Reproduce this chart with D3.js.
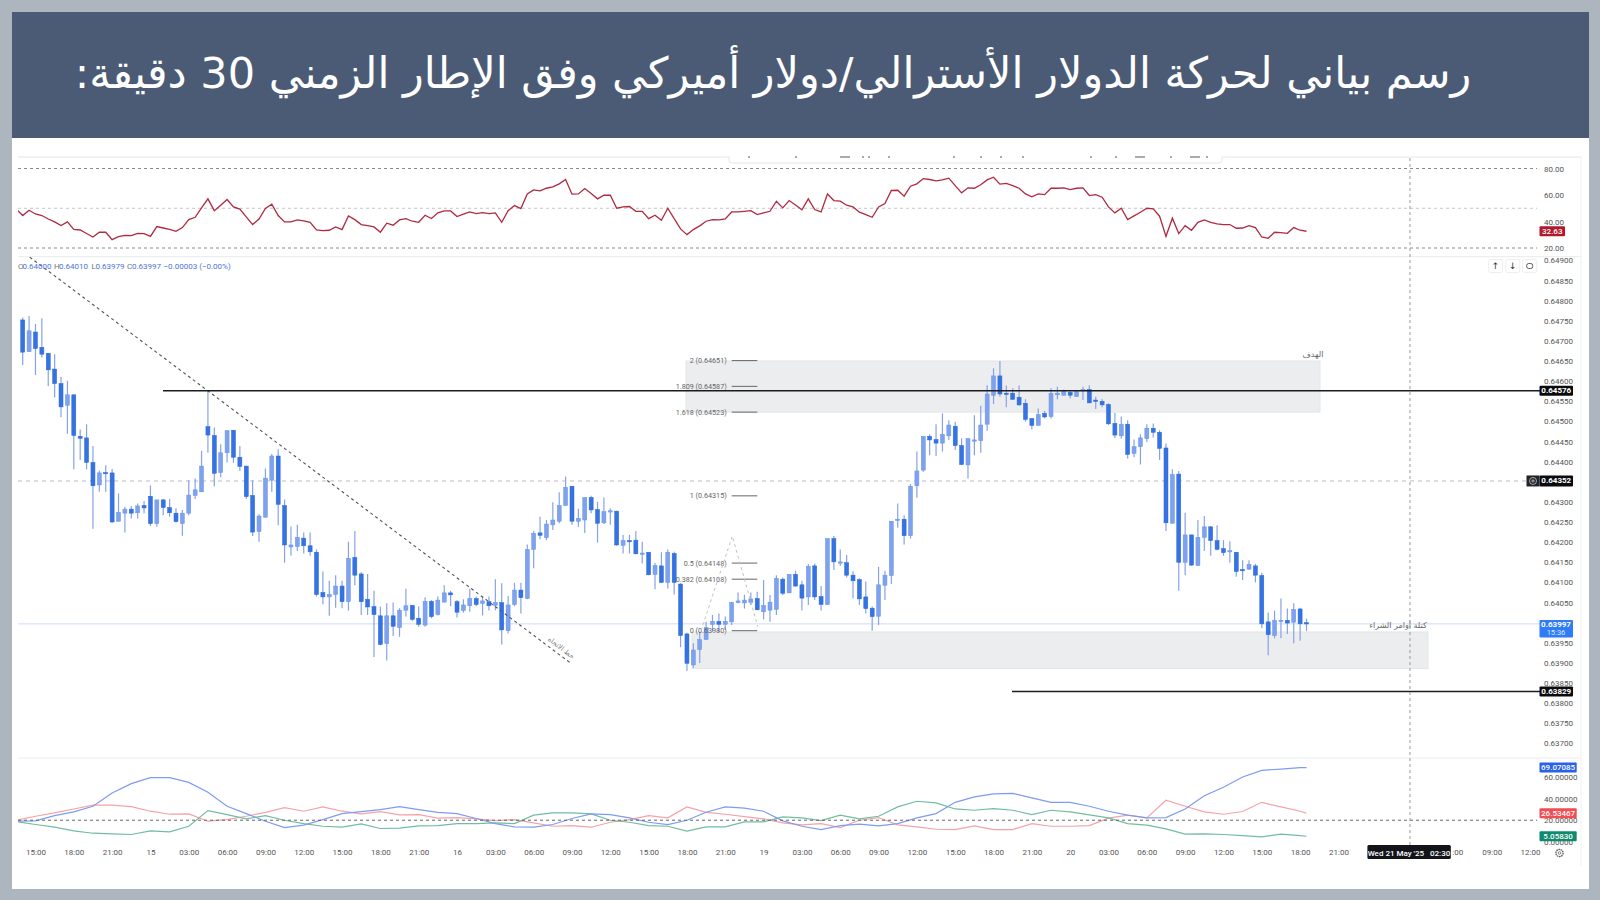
<!DOCTYPE html>
<html>
<head>
<meta charset="utf-8">
<script src="https://cdn.jsdelivr.net/npm/d3@7"></script>
<style>
  html, body { margin: 0; padding: 0; background: #adb6bf; }
  svg { display: block; }
  text { font-family: Roboto, "DejaVu Sans", sans-serif; }
  .ar { font-family: "DejaVu Sans", sans-serif; }
</style>
</head>
<body>
<div id="chart"></div>
<script>
const titleText = "رسم بياني لحركة الدولار الأسترالي/دولار أميركي وفق الإطار الزمني 30 دقيقة:";

// 30 minute candles, prices x 100000
const opens = [
  64752,64673,64722,64684,64669,64630,64594,64540,64566,64463,
  64459,64398,64342,64373,64372,64252,64272,64282,64273,64291,
  64314,64246,64305,64286,64272,64246,64272,64316,64325,64487,
  64465,64373,64422,64478,64411,64389,64316,64226,64262,64354,
  64414,64291,64188,64189,64210,64191,64175,64075,64064,64070,
  64091,64052,64162,64121,64058,64040,64017,63948,64017,63988,
  64031,64043,64011,63994,64053,64020,64051,64074,64052,64030,
  64042,64060,64048,64052,64043,64050,63980,64045,64081,64060,
  64182,64223,64211,64243,64252,64291,64339,64252,64255,64311,
  64281,64248,64276,64277,64192,64204,64205,64171,64175,64120,
  64141,64100,64172,64096,63972,63895,63933,63958,63996,64003,
  63996,64002,64050,64049,64050,64060,64027,64031,64033,64108,
  64074,64120,64094,64064,64141,64065,64045,64209,64150,64149,
  64118,64107,64064,64036,64016,64093,64117,64255,64257,64216,
  64340,64379,64463,64455,64446,64464,64488,64440,64392,64452,
  64452,64493,64565,64613,64570,64570,64560,64545,64507,64490,
  64520,64512,64566,64565,64572,64562,64576,64579,64553,64550,
  64542,64495,64464,64493,64420,64437,64457,64483,64473,64434,
  64247,64369,64150,64218,64142,64212,64238,64204,64184,64176,
  64175,64132,64133,64141,64117,64002,63968,64004,64006,64001,
  64034,64000];
const closes = [
  64672,64725,64681,64667,64628,64594,64536,64566,64465,64458,
  64398,64340,64372,64370,64250,64274,64282,64272,64290,64285,
  64246,64305,64286,64273,64251,64272,64317,64330,64389,64466,
  64371,64422,64477,64411,64388,64313,64225,64265,64359,64414,
  64294,64193,64193,64212,64191,64176,64070,64064,64070,64091,
  64052,64160,64118,64052,64039,64020,63946,64017,63991,64031,
  64042,64008,63996,64053,64015,64056,64074,64069,64026,64044,
  64060,64045,64054,64042,64050,63982,64044,64081,64062,64182,
  64222,64217,64245,64255,64291,64336,64252,64259,64311,64280,
  64247,64276,64278,64193,64204,64203,64171,64173,64119,64142,
  64100,64175,64100,63968,63899,63932,63958,63988,64003,63996,
  64003,64050,64054,64056,64059,64032,64043,64051,64110,64073,
  64120,64091,64061,64140,64064,64045,64209,64151,64151,64118,
  64104,64059,64035,64015,64094,64118,64252,64257,64216,64339,
  64377,64463,64454,64446,64468,64491,64440,64393,64457,64454,
  64491,64568,64613,64568,64568,64555,64541,64505,64490,64517,
  64511,64569,64570,64576,64565,64574,64579,64546,64550,64541,
  64494,64466,64493,64418,64437,64459,64483,64473,64433,64248,
  64368,64150,64218,64143,64212,64238,64204,64182,64174,64179,
  64127,64130,64145,64118,63997,63970,64006,64006,63999,64033,
  63997,63997];
const highs = [
  64758,64762,64742,64756,64669,64667,64611,64601,64566,64480,
  64493,64439,64378,64391,64382,64321,64288,64290,64296,64302,
  64341,64305,64307,64307,64284,64280,64354,64358,64427,64578,
  64485,64443,64477,64478,64439,64389,64354,64269,64383,64419,
  64431,64306,64239,64243,64224,64224,64182,64127,64104,64118,
  64104,64201,64228,64125,64121,64079,64040,64048,64050,64036,
  64084,64044,64041,64063,64056,64065,64093,64079,64056,64058,
  64084,64065,64065,64065,64108,64098,64066,64099,64099,64194,
  64228,64263,64255,64299,64324,64363,64339,64283,64311,64315,
  64300,64311,64284,64278,64218,64218,64228,64201,64175,64149,
  64175,64182,64176,64098,63975,63949,63977,64002,64019,64023,
  64015,64052,64075,64069,64075,64077,64106,64069,64118,64112,
  64120,64129,64104,64146,64147,64091,64209,64215,64182,64168,
  64128,64110,64102,64040,64139,64129,64252,64296,64267,64344,
  64425,64464,64468,64493,64520,64503,64499,64458,64458,64515,
  64539,64590,64632,64650,64589,64582,64589,64555,64507,64532,
  64526,64582,64586,64579,64578,64576,64586,64590,64561,64555,
  64545,64521,64512,64503,64455,64468,64493,64495,64478,64445,
  64381,64377,64273,64218,64255,64265,64240,64242,64205,64202,
  64175,64155,64155,64146,64124,64025,64030,64060,64035,64048,
  64037,64010];
const lows = [
  64640,64673,64615,64659,64588,64560,64510,64469,64381,64404,
  64381,64233,64325,64325,64248,64251,64224,64259,64259,64272,
  64240,64238,64267,64263,64249,64216,64267,64307,64325,64422,
  64338,64361,64398,64397,64377,64307,64215,64201,64261,64325,
  64242,64149,64166,64178,64172,64166,64065,64046,64017,64037,
  64036,64030,64093,64019,64019,63915,63944,63906,63967,63965,
  64015,64005,63990,63990,64011,64018,64051,64041,64013,64025,
  64027,64041,64018,64030,64031,63946,63973,64041,64023,64058,
  64135,64207,64205,64230,64247,64291,64243,64238,64223,64272,
  64199,64245,64243,64191,64172,64172,64170,64147,64118,64083,
  64099,64085,64070,63939,63880,63888,63900,63958,63977,63977,
  63982,63994,64048,64035,64044,64031,64008,64002,64019,64069,
  64073,64089,64030,64044,64056,64030,64044,64131,64141,64112,
  64060,64044,64023,63980,63994,64056,64096,64236,64194,64209,
  64310,64375,64416,64414,64425,64454,64429,64391,64358,64416,
  64422,64477,64543,64561,64535,64553,64538,64499,64480,64489,
  64507,64507,64555,64565,64557,64561,64553,64545,64531,64535,
  64491,64459,64457,64408,64411,64393,64449,64460,64404,64228,
  64247,64079,64118,64141,64141,64178,64166,64180,64166,64149,
  64114,64106,64131,64100,63987,63919,63961,63961,63972,63949,
  63955,63979];

// RSI, one value per bar, first value belongs to the bar before the first candle
const rsiValues = [49.3,
  44.5,48.5,45.7,44.5,41.9,39.7,36.9,39.7,34.1,33.6,
  30.9,28.3,31.9,31.9,26.3,28.6,29.6,29.3,31.1,30.9,
  28.8,36.2,35.1,34.1,32.6,35.4,41.4,43.2,50.3,57.1,
  48.2,52.3,56.6,51.0,49.3,43.5,37.7,41.9,49.8,53.0,
  44.5,39.7,39.7,41.2,40.4,39.4,33.6,33.1,33.4,35.9,
  33.9,44.2,41.4,37.7,36.9,35.9,31.9,38.7,37.2,41.2,
  42.2,40.2,39.4,44.7,42.2,46.5,48.0,48.0,43.7,45.5,
  47.2,46.0,46.7,46.0,46.5,39.4,48.2,52.0,49.8,60.8,
  63.9,63.1,65.1,66.1,68.4,71.7,60.6,60.8,64.9,61.1,
  57.1,59.8,59.8,50.0,51.0,51.3,47.7,47.7,42.2,44.7,
  40.9,50.0,42.2,34.4,30.1,33.9,36.7,40.2,41.4,41.2,
  41.9,47.2,47.2,47.7,48.2,45.2,46.5,47.7,55.3,50.3,
  55.8,52.5,48.8,57.1,49.0,47.2,60.8,55.8,55.3,52.3,
  51.0,47.0,45.2,43.2,51.0,53.5,63.4,63.6,59.1,66.6,
  68.4,72.4,71.7,70.7,71.4,72.7,67.1,61.6,65.4,65.1,
  67.7,71.4,73.4,68.2,68.7,67.1,65.1,60.8,58.6,60.8,
  60.3,65.1,65.1,65.4,64.1,65.1,65.4,59.6,60.3,58.3,
  51.0,46.5,50.0,41.4,44.2,47.0,50.0,49.5,44.0,28.8,
  42.5,30.9,36.9,33.4,39.4,41.2,39.4,38.2,37.7,37.7,
  34.9,35.1,36.9,35.4,28.3,27.3,31.9,31.6,31.1,35.4,
  33.4,32.63];

// DMI pane, read every third bar
const dmiBars = d3.range(-1, 201, 3).concat([201]);
const adxValues = [
  19.1,19.4,24.3,27.8,33.0,45.4,54.1,59.7,59.7,55.3,46.0,33.0,26.2,
  19.1,13.2,15.4,20.6,26.2,28.1,29.9,32.7,29.9,27.4,26.2,21.6,16.9,
  13.8,13.5,16.0,21.6,25.9,25.3,22.2,18.1,16.0,20.0,27.4,32.4,31.2,
  28.4,19.4,14.4,11.3,15.0,16.3,14.7,16.9,22.2,26.2,36.7,41.7,44.5,
  45.1,40.8,36.7,36.7,33.0,28.4,24.7,22.2,22.5,30.5,42.9,50.7,60.3,66.5,67.7,69.0,69.07];
const plusDi = [
  20.0,23.7,26.8,30.5,34.0,34.0,32.7,28.4,25.6,25.9,19.1,20.6,23.7,
  27.4,31.8,28.4,32.4,28.4,25.9,28.1,25.0,25.3,21.9,22.5,21.2,19.7,
  20.6,17.5,14.4,15.0,13.5,18.1,20.6,24.3,22.2,32.4,27.4,25.6,23.4,
  21.2,17.5,15.7,16.9,13.2,20.0,22.5,15.7,13.8,11.6,11.3,14.7,11.3,
  11.3,16.9,14.4,14.4,15.0,21.9,24.7,22.2,38.6,33.0,27.8,25.6,28.1,36.7,32.4,28.4,26.53];
const minusDi = [
  18.8,16.0,13.5,10.1,7.9,7.3,6.7,10.1,9.2,14.4,29.0,25.3,21.2,
  24.3,20.0,16.9,14.4,13.5,16.6,12.3,12.6,14.7,15.0,16.9,16.9,17.5,
  16.9,24.7,26.8,26.8,25.9,20.0,18.1,15.0,14.4,9.8,13.8,13.8,18.5,
  18.5,23.1,22.2,19.7,24.7,21.2,23.7,32.4,37.7,36.1,30.5,29.3,30.9,
  29.3,25.3,29.3,27.8,25.0,22.2,16.9,15.4,11.9,7.0,7.3,6.7,5.7,4.5,7.0,5.7,5.058];

const priceTicks = d3.range(64900, 63699, -50);
const rsiTicks = [80, 60, 40, 20];
const dmiTicks = [60, 40, 20, 0];
const rsiGuides = [80, 50, 20];

// labels behind the crosshair tooltip stay empty, 06:00 only shows its tail there
const timeLabels = ["15:00","18:00","21:00","15","03:00","06:00","09:00","12:00","15:00","18:00","21:00",
  "16","03:00","06:00","09:00","12:00","15:00","18:00","21:00",
  "19","03:00","06:00","09:00","12:00","15:00","18:00","21:00",
  "20","03:00","06:00","09:00","12:00","15:00","18:00","21:00",
  "","",":00","09:00","12:00"];

const fibLevels = [2, 1.809, 1.618, 1, 0.5, 0.382, 0];
const fibPrices = [64651, 64587, 64523, 64315, 64148, 64108, 63980];

const svg = d3.select("#chart").append("svg").attr("width", 1600).attr("height", 900);

// page frame
svg.append("rect").attr("width", 1600).attr("height", 900).attr("fill", "#adb6bf");
svg.append("rect").attr("x", 12).attr("y", 12).attr("width", 1577).attr("height", 877).attr("fill", "#ffffff");
svg.append("rect").attr("x", 12).attr("y", 12).attr("width", 1577).attr("height", 126).attr("fill", "#4b5b75");
svg.append("text").attr("class", "ar")
  .attr("x", 773).attr("y", 73)
  .attr("text-anchor", "middle").attr("dominant-baseline", "central")
  .attr("direction", "rtl")
  .attr("font-size", 43).attr("fill", "#ffffff")
  .text(titleText);

// scales, bar index to x and price to y for the panes
const x = d3.scaleLinear().domain([0, 201]).range([22.7, 1306.5]);
const y = d3.scaleLinear().domain([64650, 63750]).range([361, 723.3]);
const yRsi = d3.scaleLinear().domain([80, 20]).range([168.5, 248]);
const yDmi = d3.scaleLinear().domain([60, 0]).range([777.3, 841.7]);

svg.append("clipPath").attr("id", "plot").append("rect")
  .attr("x", 18).attr("y", 157).attr("width", 1522).attr("height", 690);

// pane borders
[157, 256.7, 758].forEach(v => {
  svg.append("line").attr("x1", 18).attr("x2", 1581).attr("y1", v).attr("y2", v)
    .attr("stroke", "#eceef0").attr("stroke-width", 1.2);
});
svg.append("line").attr("x1", 1581).attr("x2", 1581).attr("y1", 157).attr("y2", 866)
  .attr("stroke", "#f0f1f3");

// toolbar leftover at the top
svg.append("rect").attr("x", 729).attr("y", 150).attr("width", 493).attr("height", 13).attr("rx", 3)
  .attr("fill", "#ffffff").attr("stroke", "#e4e6e9");
svg.append("rect").attr("x", 720).attr("y", 138).attr("width", 510).attr("height", 18.5).attr("fill", "#ffffff");
svg.append("line").attr("x1", 18).attr("x2", 729).attr("y1", 157).attr("y2", 157).attr("stroke", "#eceef0").attr("stroke-width", 1.2);
svg.append("line").attr("x1", 1222).attr("x2", 1581).attr("y1", 157).attr("y2", 157).attr("stroke", "#eceef0").attr("stroke-width", 1.2);
[748, 795, 840, 846, 862, 868, 888, 953, 980, 1000, 1022, 1090, 1115, 1135, 1140, 1170, 1190, 1206].forEach(v => {
  svg.append("rect").attr("x", v).attr("y", 156).attr("width", v === 840 || v === 1135 || v === 1190 ? 10 : 2).attr("height", 2)
    .attr("fill", "#aaa");
});

// zones
svg.append("rect").attr("x", 686).attr("width", 1320 - 686)
  .attr("y", y(64650)).attr("height", y(64523) - y(64650))
  .attr("fill", "#ecedee").attr("stroke", "#e4e5e7");
svg.append("rect").attr("x", 692).attr("width", 1428 - 692)
  .attr("y", y(63977)).attr("height", y(63886) - y(63977))
  .attr("fill", "#ecedee").attr("stroke", "#e4e5e7");

// RSI pane
const rsiPane = svg.append("g").attr("clip-path", "url(#plot)");
rsiPane.selectAll("line").data(rsiGuides).join("line")
  .attr("x1", 18).attr("x2", 1537)
  .attr("y1", d => yRsi(d)).attr("y2", d => yRsi(d))
  .attr("stroke", d => d === 50 ? "#c4c4c4" : "#8a8a8a")
  .attr("stroke-dasharray", "3,3");
rsiPane.append("path")
  .attr("d", d3.line().x((d, i) => x(i - 1)).y(d => yRsi(d))(rsiValues))
  .attr("fill", "none").attr("stroke", "#b02a41").attr("stroke-width", 1.3);

// horizontal price lines behind the candles
const guides = svg.append("g");
guides.append("line").attr("x1", 18).attr("x2", 1526).attr("y1", y(64352)).attr("y2", y(64352))
  .attr("stroke", "#bdbdbd").attr("stroke-dasharray", "4,4");
guides.append("line").attr("x1", 18).attr("x2", 1540).attr("y1", y(63997)).attr("y2", y(63997))
  .attr("stroke", "#cfdcf8");

// candles
const bars = d3.range(opens.length);
const candles = svg.append("g");
candles.selectAll("line").data(bars).join("line")
  .attr("x1", d => x(d)).attr("x2", d => x(d))
  .attr("y1", d => y(highs[d])).attr("y2", d => y(lows[d]))
  .attr("stroke", "#86a2e6").attr("stroke-width", 1.2);
candles.selectAll("rect").data(bars).join("rect")
  .attr("x", d => x(d) - 2)
  .attr("width", 4)
  .attr("y", d => y(Math.max(opens[d], closes[d])))
  .attr("height", d => Math.max(1.3, Math.abs(y(opens[d]) - y(closes[d]))))
  .attr("fill", d => closes[d] < opens[d] ? "#3573e3" : "#7ea2ee")
  .attr("stroke", d => closes[d] < opens[d] ? "#2a66d6" : "#6a93e8")
  .attr("stroke-width", 0.5);

// fib drawing
const fib = svg.append("g");
fib.selectAll("line").data(fibPrices).join("line")
  .attr("x1", 731.7).attr("x2", 757.3)
  .attr("y1", d => y(d)).attr("y2", d => y(d))
  .attr("stroke", "#666").attr("stroke-width", 1);
fib.selectAll("text").data(fibPrices).join("text")
  .attr("x", 726.7).attr("y", d => y(d))
  .attr("text-anchor", "end").attr("dominant-baseline", "central")
  .attr("font-size", 7.2).attr("fill", "#666")
  .text((d, i) => fibLevels[i] + " (" + (d / 100000).toFixed(5) + ")");

// dashed zigzag of the fib points
const zigBars = [106.2, 111.1, 115.1];
const zigPrices = [63980, 64215, 63990];
svg.append("path")
  .attr("d", d3.line().x(d => x(d)).y((d, i) => y(zigPrices[i]))(zigBars))
  .attr("fill", "none").attr("stroke", "#c2c2c2").attr("stroke-dasharray", "3,3");

// trend line
const trendBars = [1.1, 86];
const trendPrices = [64908, 63897];
svg.append("path")
  .attr("d", d3.line().x(d => x(d)).y((d, i) => y(trendPrices[i]))(trendBars))
  .attr("fill", "none").attr("stroke", "#555").attr("stroke-dasharray", "3,3").attr("stroke-width", 1.1);
svg.append("text").attr("class", "ar")
  .attr("transform", "translate(561,648) rotate(38)")
  .attr("text-anchor", "middle").attr("dominant-baseline", "central")
  .attr("font-size", 7).attr("fill", "#777")
  .text("خط الاتجاه");

// solid levels
svg.append("line").attr("x1", 163).attr("x2", 1540).attr("y1", y(64576)).attr("y2", y(64576))
  .attr("stroke", "#1c1c1c").attr("stroke-width", 1.5);
svg.append("line").attr("x1", 1012).attr("x2", 1540).attr("y1", y(63829)).attr("y2", y(63829))
  .attr("stroke", "#1c1c1c").attr("stroke-width", 1.5);

// zone labels
svg.append("text").attr("class", "ar").attr("x", 1313).attr("y", 354)
  .attr("text-anchor", "middle").attr("dominant-baseline", "central")
  .attr("font-size", 8).attr("fill", "#666").text("الهدف");
svg.append("text").attr("class", "ar").attr("x", 1398).attr("y", 625)
  .attr("text-anchor", "middle").attr("dominant-baseline", "central")
  .attr("font-size", 8).attr("fill", "#666").text("كتلة أوامر الشراء");

// DMI pane
const dmiPane = svg.append("g").attr("clip-path", "url(#plot)");
[[plusDi, "#f4a3a8"], [minusDi, "#72bd9f"], [adxValues, "#7e9cf0"]].forEach(s => {
  dmiPane.append("path")
    .attr("d", d3.line().x((d, i) => x(dmiBars[i])).y(d => yDmi(d))(s[0]))
    .attr("fill", "none").attr("stroke", s[1]).attr("stroke-width", 1.2);
});
dmiPane.append("line").attr("x1", 18).attr("x2", 1537).attr("y1", yDmi(20)).attr("y2", yDmi(20))
  .attr("stroke", "#666").attr("stroke-dasharray", "3,3");

// crosshair
svg.append("line").attr("x1", x(217.2)).attr("x2", x(217.2)).attr("y1", 158).attr("y2", 845)
  .attr("stroke", "#999").attr("stroke-dasharray", "3,3");

// axes, right side
function styleAxis(g) {
  g.select(".domain").remove();
  g.selectAll("line").remove();
  g.selectAll("text").attr("fill", "#555").attr("font-size", 8).attr("font-family", "Roboto, sans-serif");
}
svg.append("g").attr("transform", "translate(1544,0)")
  .call(d3.axisRight(y).tickValues(priceTicks).tickFormat(d => (d / 100000).toFixed(5)).tickSize(0).tickPadding(0))
  .call(styleAxis);
svg.append("g").attr("transform", "translate(1544,0)")
  .call(d3.axisRight(yRsi).tickValues(rsiTicks).tickFormat(d3.format(".2f")).tickSize(0).tickPadding(0))
  .call(styleAxis);
svg.append("g").attr("transform", "translate(1544,0)")
  .call(d3.axisRight(yDmi).tickValues(dmiTicks).tickFormat(d3.format(".5f")).tickSize(0).tickPadding(0))
  .call(styleAxis);

// time axis, one label every six bars starting at 15:00
svg.append("g").attr("transform", "translate(0,849)")
  .call(d3.axisBottom(x).tickValues(timeLabels.map((d, i) => 2 + 6 * i))
    .tickFormat((d, i) => timeLabels[i]).tickSize(0).tickPadding(0))
  .call(styleAxis)
  .selectAll("text").filter(function() { return d3.select(this).text() === ":00"; }).attr("dx", 4);

// price tags
function tag(x0, x1, yc, h, fill, label, bold) {
  svg.append("rect").attr("x", x0).attr("y", yc - h / 2).attr("width", x1 - x0).attr("height", h)
    .attr("rx", 1).attr("fill", fill);
  svg.append("text").attr("x", (x0 + x1) / 2).attr("y", yc)
    .attr("text-anchor", "middle").attr("dominant-baseline", "central")
    .attr("font-size", 8).attr("font-weight", bold ? 700 : 500).attr("fill", "#fff").text(label);
}
tag(1539.5, 1565, yRsi(32.63), 10, "#b2182b", "32.63");
tag(1539.5, 1573, y(64576), 10, "#0b0b0f", "0.64576", true);
tag(1539.5, 1573, y(64352), 11, "#0b0b0f", "0.64352", true);
tag(1539.5, 1573, y(63829), 10, "#0b0b0f", "0.63829", true);
tag(1539.5, 1576.7, yDmi(69.07), 10, "#2962e8", "69.07085");
tag(1539.5, 1576.7, yDmi(26.53), 10, "#f04e54", "26.53467");
tag(1539.5, 1576.7, yDmi(5.058), 10, "#0f8a6e", "5.05830");

// current price tag has the countdown under it
svg.append("rect").attr("x", 1539.5).attr("y", 620).attr("width", 33.5).attr("height", 17.5).attr("rx", 1).attr("fill", "#2e7df6");
svg.append("text").attr("x", 1556).attr("y", 624.5).attr("text-anchor", "middle").attr("dominant-baseline", "central")
  .attr("font-size", 8).attr("font-weight", 700).attr("fill", "#fff").text("0.63997");
svg.append("text").attr("x", 1556).attr("y", 632.5).attr("text-anchor", "middle").attr("dominant-baseline", "central")
  .attr("font-size", 7.5).attr("fill", "#dfeaff").text("15:36");

// plus button beside the 0.64352 tag
svg.append("rect").attr("x", 1526.5).attr("y", y(64352) - 5.5).attr("width", 13).attr("height", 11).attr("fill", "#222428");
svg.append("circle").attr("cx", 1533).attr("cy", y(64352)).attr("r", 3.5).attr("fill", "none").attr("stroke", "#ddd").attr("stroke-width", 0.7);
svg.append("path").attr("d", `M1531.2 ${y(64352)}h3.6M1533 ${y(64352) - 1.8}v3.6`).attr("stroke", "#ddd").attr("stroke-width", 0.7);

// OHLC legend
const legendParts = [["O", 18, "#777"], ["0.64000", 22.5, "#4f74d8"], ["H", 54, "#777"], ["0.64010", 59, "#4f74d8"],
  ["L", 91.5, "#777"], ["0.63979", 95.5, "#4f74d8"], ["C", 127, "#777"], ["0.63997", 132, "#4f74d8"],
  ["−0.00003 (−0.00%)", 163.5, "#4f74d8"]];
svg.selectAll(".legend").data(legendParts).join("text").attr("class", "legend")
  .attr("x", d => d[1]).attr("y", 266.3).attr("dominant-baseline", "central")
  .attr("font-size", 8).attr("fill", d => d[2]).text(d => d[0]);

// up, down and reset buttons
[1495.6, 1512.8, 1529.7].forEach((bx, i) => {
  svg.append("rect").attr("x", bx - 7).attr("y", 259.5).attr("width", 14).attr("height", 13).attr("rx", 2)
    .attr("fill", "#fff").attr("stroke", "#eceef0");
  if (i < 2) {
    svg.append("text").attr("class", "ar").attr("x", bx).attr("y", 266)
      .attr("text-anchor", "middle").attr("dominant-baseline", "central")
      .attr("font-size", 9).attr("fill", "#333").text(i === 0 ? "↑" : "↓");
  } else {
    svg.append("rect").attr("x", bx - 3).attr("y", 263.5).attr("width", 6).attr("height", 5).attr("rx", 2)
      .attr("fill", "none").attr("stroke", "#333").attr("stroke-width", 0.8);
  }
});

// crosshair time tooltip
svg.append("rect").attr("x", 1367.4).attr("y", 845).attr("width", 83.4).attr("height", 14).attr("rx", 1.5).attr("fill", "#12141a");
svg.append("text").attr("x", 1409).attr("y", 853).attr("text-anchor", "middle").attr("dominant-baseline", "central")
  .attr("font-size", 8).attr("font-weight", 500).attr("fill", "#fff").attr("xml:space", "preserve").text("Wed 21 May '25   02:30");

// settings gear
svg.append("circle").attr("cx", 1559.5).attr("cy", 853).attr("r", 3.6).attr("fill", "none").attr("stroke", "#555").attr("stroke-width", 1.3).attr("stroke-dasharray", "1.6,0.6");
svg.append("circle").attr("cx", 1559.5).attr("cy", 853).attr("r", 1.3).attr("fill", "none").attr("stroke", "#555").attr("stroke-width", 0.7);
</script>
</body>
</html>
